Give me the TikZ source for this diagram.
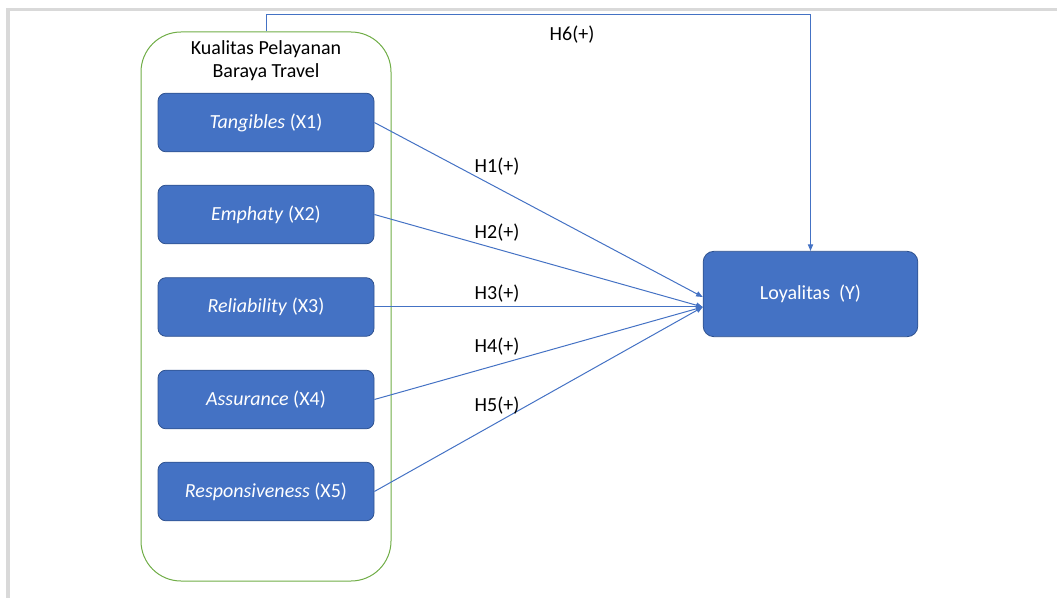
\documentclass[tikz,border=0pt]{standalone}
\usepackage{fontspec}
\setmainfont{Carlito}
\usepackage{tikz}
\usepackage{xcolor}
\usetikzlibrary{arrows.meta,positioning}
\definecolor{officeblue}{RGB}{68,114,196}
\definecolor{officeedge}{RGB}{47,82,143}
\definecolor{officegreen}{RGB}{112,173,71}
\colorlet{accent}{officeblue}
\tikzset{
  dimbox/.style={rectangle, rounded corners=6pt, fill=officeblue, draw=officeedge,
    line width=0.6pt, minimum width=162pt, minimum height=44pt, text=white,
    font=\fontsize{15}{18}\selectfont, inner sep=0pt},
  hyp/.style={font=\fontsize{15}{18}\selectfont, inner sep=0pt},
  link/.style={accent, line width=0.75pt, -{Triangle[length=5pt, width=4pt]}}
}

\begin{document}
\begin{tikzpicture}[x=0.75pt, y=-0.75pt]
  \useasboundingbox (0,0) rectangle (1057,598);
  \draw[line width=2.4pt, black!15] (8,598) -- (8,9.5) -- (1057,9.5);
  \node[draw=officegreen, line width=0.75pt, rounded corners=30pt, minimum width=187.5pt,
    minimum height=411.75pt, inner sep=0pt] (kualitas) at (266,306.5) {};
  \node[hyp, align=center, font=\fontsize{15}{17.25}\selectfont] (judul) at (266,61)
    {Kualitas Pelayanan\\Baraya Travel};
  \foreach \i/\nm/\yy in {1/Tangibles/122.5, 2/Emphaty/214.5, 3/Reliability/307,
      4/Assurance/399.5, 5/Responsiveness/491.5}
    \node[dimbox] (x\i) at (266,\yy) {\textit{\nm} (X\i)};
  \node[dimbox, minimum width=161pt, minimum height=64pt, rounded corners=8pt] (loy) at (810.5,294)
    {Loyalitas\ \ (Y)};
  \draw[link] (x1.east) -- ([yshift=-2.25pt]loy.west);
  \foreach \i in {2,3,4,5} \draw[link] (x\i.east) -- ([yshift=-9.75pt]loy.west);
  \draw[link] (kualitas.north) -- ++(0,-17) -| (loy.north);
  \node[hyp] (h1) at (497,167) {H1(+)};
  \node[hyp] (h2) at (497,233) {H2(+)};
  \node[hyp] (h3) at (497,294) {H3(+)};
  \node[hyp] (h4) at (497,347) {H4(+)};
  \node[hyp] (h5) at (497,406) {H5(+)};
  \node[hyp] (h6) at (572,35) {H6(+)};
\end{tikzpicture}
\end{document}
